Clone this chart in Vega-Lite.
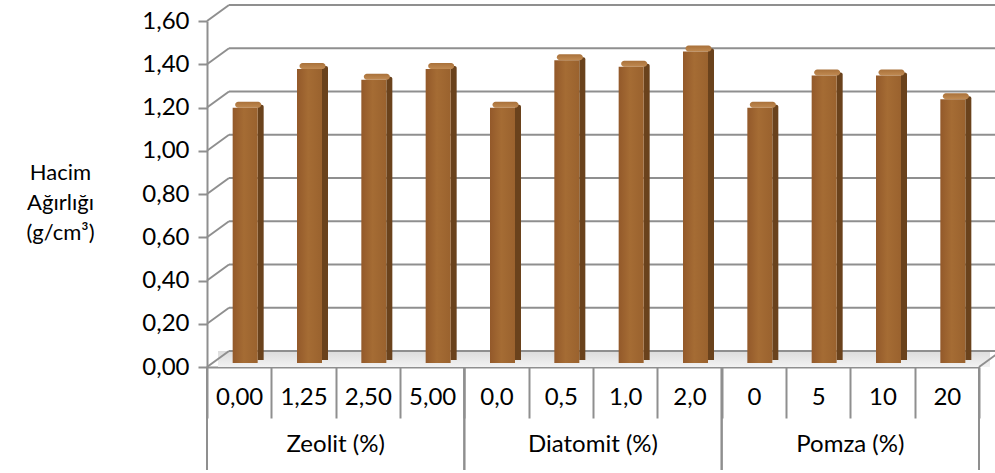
{
"$schema":"https://vega.github.io/schema/vega-lite/v6.json",
"width":772,"height":346,"autosize":"none",
"padding":{"left":207,"top":21,"right":16,"bottom":106},
"background":"white",
"config":{"view":{"stroke":null},"font":"Lato","axis":{"labelFont":"Lato","titleFont":"Lato"}},
"datasets":{
 "bars":[
  {"label":"0,00","group":"Zeolit (%)","v":1.18},
  {"label":"1,25","group":"Zeolit (%)","v":1.36},
  {"label":"2,50","group":"Zeolit (%)","v":1.31},
  {"label":"5,00","group":"Zeolit (%)","v":1.36},
  {"label":"0,0","group":"Diatomit (%)","v":1.18},
  {"label":"0,5","group":"Diatomit (%)","v":1.40},
  {"label":"1,0","group":"Diatomit (%)","v":1.37},
  {"label":"2,0","group":"Diatomit (%)","v":1.44},
  {"label":"0","group":"Pomza (%)","v":1.18},
  {"label":"5","group":"Pomza (%)","v":1.33},
  {"label":"10","group":"Pomza (%)","v":1.33},
  {"label":"20","group":"Pomza (%)","v":1.22}
 ],
 "grid":[{"v":0},{"v":0.2},{"v":0.4},{"v":0.6},{"v":0.8},{"v":1.0},{"v":1.2},{"v":1.4},{"v":1.6}],
 "groups":[
  {"group":"Zeolit (%)","first":"0,00","mid":"1,25","last":"5,00"},
  {"group":"Diatomit (%)","first":"0,0","mid":"0,5","last":"2,0"},
  {"group":"Pomza (%)","first":"0","mid":"5","last":"20"}
 ]
},
"layer":[
 {"data":{"name":"bars"},
  "mark":{"type":"bar","width":25,"xOffset":6,"yOffset":-4,"y2Offset":-4,"opacity":0},
  "encoding":{
   "x":{"field":"label","type":"nominal",
        "scale":{"type":"band","domain":["0,00","1,25","2,50","5,00","0,0","0,5","1,0","2,0","0","5","10","20"],"paddingInner":0,"paddingOuter":0},
        "axis":{"tickBand":"extent","tickSize":51,"tickColor":"#8f8f8f","tickWidth":2,"domainColor":"#8f8f8f","domainWidth":2,
                "labelFontSize":24,"labelColor":"#000000","labelPadding":-33,"labelAngle":0,"title":null}},
   "y":{"field":"v","type":"quantitative","scale":{"domain":[0,1.6],"nice":false},
        "axis":{"values":[0,0.2,0.4,0.6,0.8,1.0,1.2,1.4,1.6],"labelExpr":"replace(format(datum.value,'.2f'),'.',',')",
                "labelFontSize":24,"labelColor":"#000000","labelPadding":9,"tickSize":9,"tickColor":"#8f8f8f","tickWidth":2,
                "domainColor":"#8f8f8f","domainWidth":2,"grid":false,
                "title":["Hacim","Ağırlığı","(g/cm³)"],"titleAngle":0,"titleX":-147,"titleY":158,"titleAlign":"center",
                "titleBaseline":"alphabetic","titleFontSize":22,"titleFontWeight":"normal","titleLineHeight":30,"titleColor":"#000000"}},
   "y2":{"datum":0}
  }},
 {"data":{"name":"grid"},"transform":[{"filter":"datum.v == 0"}],
  "mark":{"type":"rect","xOffset":11,"x2Offset":11,"yOffset":-16,
          "fill":{"gradient":"linear","x1":0,"y1":0,"x2":0,"y2":1,"stops":[{"offset":0,"color":"#dcdcdc"},{"offset":1,"color":"#f2f2f2"}]}},
  "encoding":{
   "x":{"datum":"0,00","bandPosition":0,"type":"nominal"},
   "x2":{"datum":"20","bandPosition":1},
   "y":{"field":"v","type":"quantitative"},
   "y2":{"field":"v"}
  }},
 {"data":{"name":"grid"},
  "mark":{"type":"rule","stroke":"#8f8f8f","strokeWidth":2,"xOffset":22,"x2Offset":22,"yOffset":-16,"y2Offset":-16},
  "encoding":{
   "x":{"datum":"0,00","bandPosition":0,"type":"nominal"},
   "x2":{"datum":"20","bandPosition":1},
   "y":{"field":"v","type":"quantitative"},
   "y2":{"field":"v"}
  }},
 {"data":{"name":"grid"},
  "mark":{"type":"rule","stroke":"#8f8f8f","strokeWidth":2,"x2Offset":22,"y2Offset":-16},
  "encoding":{
   "x":{"datum":"0,00","bandPosition":0,"type":"nominal"},
   "x2":{"datum":"0,00","bandPosition":0},
   "y":{"field":"v","type":"quantitative"},
   "y2":{"field":"v"}
  }},
 {"data":{"name":"grid"},"transform":[{"filter":"datum.v == 0"}],
  "mark":{"type":"rule","stroke":"#8f8f8f","strokeWidth":2,"x2Offset":22,"y2Offset":-16},
  "encoding":{
   "x":{"datum":"20","bandPosition":1,"type":"nominal"},
   "x2":{"datum":"20","bandPosition":1},
   "y":{"field":"v","type":"quantitative"},
   "y2":{"field":"v"}
  }},
 {"data":{"name":"groups"},
  "mark":{"type":"rule","stroke":"#8f8f8f","strokeWidth":2,"y2Offset":103},
  "encoding":{
   "x":{"field":"first","bandPosition":0,"type":"nominal"},
   "y":{"datum":0,"type":"quantitative"},
   "y2":{"datum":0}
  }},
 {"data":{"name":"groups"},
  "mark":{"type":"rule","stroke":"#8f8f8f","strokeWidth":2,"y2Offset":103},
  "encoding":{
   "x":{"field":"last","bandPosition":1,"type":"nominal"},
   "y":{"datum":0,"type":"quantitative"},
   "y2":{"datum":0}
  }},
 {"data":{"name":"bars"},
  "mark":{"type":"bar","width":6,"xOffset":21.5,"yOffset":-7,"y2Offset":-7,"fill":"#6a421c","cornerRadiusTopRight":2},
  "encoding":{
   "x":{"field":"label","type":"nominal"},
   "y":{"field":"v","type":"quantitative"},
   "y2":{"datum":0}
  }},
 {"data":{"name":"bars"},
  "mark":{"type":"bar","width":26,"xOffset":9,"yOffset":-10,"y2Offset":-4,"cornerRadius":4,
          "fill":{"gradient":"linear","x1":0,"y1":0,"x2":0,"y2":1,"stops":[{"offset":0,"color":"#a9713a"},{"offset":1,"color":"#c08a52"}]}},
  "encoding":{
   "x":{"field":"label","type":"nominal"},
   "y":{"field":"v","type":"quantitative"},
   "y2":{"field":"v"}
  }},
 {"data":{"name":"bars"},
  "mark":{"type":"bar","width":25,"xOffset":6,"yOffset":-4,"y2Offset":-4,
          "fill":{"gradient":"linear","x1":0,"y1":0,"x2":1,"y2":0,"stops":[{"offset":0,"color":"#93592a"},{"offset":0.45,"color":"#a56c34"},{"offset":1,"color":"#9a622e"}]}},
  "encoding":{
   "x":{"field":"label","type":"nominal"},
   "y":{"field":"v","type":"quantitative"},
   "y2":{"datum":0}
  }},
 {"data":{"name":"groups"},
  "mark":{"type":"text","fontSize":24,"color":"#000000","baseline":"middle","align":"center","yOffset":78},
  "encoding":{
   "x":{"field":"mid","bandPosition":1,"type":"nominal"},
   "y":{"datum":0,"type":"quantitative"},
   "text":{"field":"group"}
  }}
]
}
